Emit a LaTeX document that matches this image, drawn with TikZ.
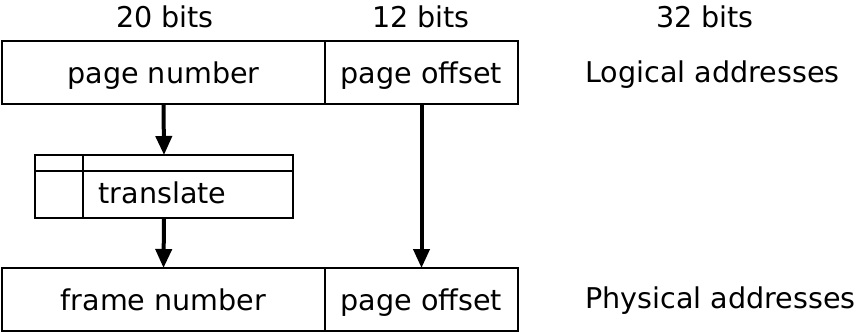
\documentclass[tikz,border=0pt]{standalone}
\usepackage{fontspec}
\setmainfont{DejaVu Sans}
\usetikzlibrary{arrows.meta,calc}
\begin{document}
\begin{tikzpicture}[x=0.5pt,y=-0.5pt,
	field/.style={draw, rectangle, line width=0.65pt, inner sep=0pt, outer sep=0pt, minimum height=31.5pt, text height=10.5pt, text depth=0pt, font=\fontsize{14.3}{17}\selectfont},
	lbl/.style={inner sep=0pt, anchor=base, font=\fontsize{14.3}{17}\selectfont},
	flow/.style={line width=2pt, -{Triangle[length=9.5pt, width=8pt]}}
	]
	\useasboundingbox (0,0) rectangle (860,333);
	% widths above the fields
	\node[lbl] (w20) at (165,27) {20 bits};
	\node[lbl] (w12) at (421,27) {12 bits};
	\node[lbl] (w32) at (705,27) {32 bits};
	% logical address
	\node[field, minimum width=161.5pt] (lpage) at (163.5,72.5) {page number};
	\node[field, minimum width=96.5pt] (loff) at (421.5,72.5) {page offset};
	\node[lbl, anchor=base west] (lname) at (585,82) {Logical addresses};
	% translation table
	\node[field, minimum width=129pt] (tbl) at (164,186.5) {};
	\node[lbl] (tname) at (162.5,203) {translate};
	\draw[line width=0.65pt] ($(tbl.north west)+(0,16)$) -- ($(tbl.north east)+(0,16)$);
	\draw[line width=0.65pt] ($(tbl.north west)+(48,0)$) -- ($(tbl.south west)+(48,0)$);
	% physical address
	\node[field, minimum width=161.5pt] (ppage) at (163.5,299.5) {frame number};
	\node[field, minimum width=96.5pt] (poff) at (421.5,299.5) {page offset};
	\node[lbl, anchor=base west] (pname) at (585,308) {Physical addresses};
	% arrows
	\draw[flow] (lpage.south) -- (tbl.north);
	\draw[flow] (tbl.south) -- (ppage.north);
	\draw[flow] (loff.south) -- (poff.north);
\end{tikzpicture}
\end{document}
